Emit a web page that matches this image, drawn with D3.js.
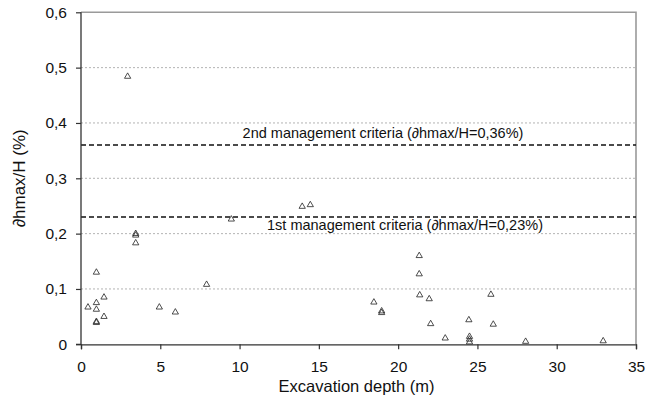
<!DOCTYPE html>
<html>
<head>
<meta charset="utf-8">
<script src="https://cdn.jsdelivr.net/npm/d3@7"></script>
<style>
  html, body { margin: 0; padding: 0; background: #fff; }
  svg { display: block; font-family: "Liberation Sans", Arial, Helvetica, sans-serif; }
</style>
</head>
<body>
<svg id="chart" width="658" height="403"></svg>
<script>
// Excavation depth (m) of each monitored section
const depth = [
  2.94, 3.45, 3.45, 3.45, 9.48, 0.97, 7.92, 1.45, 0.97, 0.44,
  0.97, 4.94, 5.95, 1.45, 0.97, 0.97, 13.95, 14.46, 21.33, 21.33,
  21.36, 21.96, 18.47, 18.96, 18.96, 25.85, 22.05, 24.46, 26.0, 22.97,
  24.5, 24.5, 24.5, 28.04, 32.93
];
// Maximum horizontal wall deflection ratio ∂hmax/H (%)
const ratio = [
  0.484, 0.200, 0.197, 0.183, 0.226, 0.130, 0.108, 0.085, 0.075, 0.067,
  0.063, 0.067, 0.058, 0.050, 0.041, 0.039, 0.249, 0.252, 0.160, 0.127,
  0.089, 0.082, 0.076, 0.060, 0.057, 0.090, 0.037, 0.044, 0.036, 0.011,
  0.014, 0.009, 0.004, 0.005, 0.006
];
// Management criteria levels and their captions
const criteriaValues = [0.36, 0.23];
const criteriaLabels = [
  "2nd management criteria (∂hmax/H=0,36%)",
  "1st management criteria (∂hmax/H=0,23%)"
];
const xTicks = [0, 5, 10, 15, 20, 25, 30, 35];
const yTicks = [0, 0.1, 0.2, 0.3, 0.4, 0.5, 0.6];

const svg = d3.select("#chart");
const plotLeft = 81, plotRight = 636, plotTop = 12.3, plotBottom = 344.3;

const x = d3.scaleLinear().domain([0, 35]).range([plotLeft, plotRight]);
const y = d3.scaleLinear().domain([0, 0.6]).range([plotBottom, plotTop]);

const fmt = d => d === 0 ? "0" : d3.format(".1f")(d).replace(".", ",");

// dotted horizontal gridlines
svg.append("g")
  .selectAll("line")
  .data(yTicks.filter(d => d > 0 && d < 0.6))
  .join("line")
  .attr("x1", plotLeft).attr("x2", plotRight)
  .attr("y1", d => y(d)).attr("y2", d => y(d))
  .attr("stroke", "#a0a0a0")
  .attr("stroke-width", 0.8)
  .attr("stroke-dasharray", "2,2");

// top and right frame
svg.append("path")
  .attr("d", `M${plotLeft},${y(0.6)}H${x(35)}V${y(0)}`)
  .attr("fill", "none")
  .attr("stroke", "#9a9a9a")
  .attr("stroke-width", 1.6);

// criteria lines
svg.append("g")
  .selectAll("line")
  .data(criteriaValues)
  .join("line")
  .attr("x1", plotLeft).attr("x2", plotRight)
  .attr("y1", d => y(d)).attr("y2", d => y(d))
  .attr("stroke", "#111")
  .attr("stroke-width", 1.5)
  .attr("stroke-dasharray", "5,3");

// criteria captions
const captionDy = [-7, 13];
const captionX = [383, 405];
svg.append("g")
  .selectAll("text")
  .data(criteriaValues)
  .join("text")
  .attr("x", (d, i) => captionX[i])
  .attr("y", (d, i) => y(d) + captionDy[i])
  .attr("text-anchor", "middle")
  .attr("font-size", 14.5)
  .attr("fill", "#111")
  .text((d, i) => criteriaLabels[i]);

// axes
const xAxis = svg.append("g")
  .attr("transform", `translate(0,${plotBottom})`)
  .call(d3.axisBottom(x).tickValues(xTicks).tickSize(5).tickPadding(12).tickFormat(d3.format("d")));
const yAxis = svg.append("g")
  .attr("transform", `translate(${plotLeft},0)`)
  .call(d3.axisLeft(y).tickValues(yTicks).tickSize(5).tickPadding(9).tickFormat(fmt));

[xAxis, yAxis].forEach(g => {
  g.select(".domain").attr("stroke", "#333").attr("stroke-width", 1.3);
  g.selectAll(".tick line").attr("stroke", "#333").attr("stroke-width", 1.2);
  g.selectAll(".tick text").attr("fill", "#111").attr("font-size", 15.5)
    .attr("font-family", "'Liberation Sans', Arial, sans-serif");
});
yAxis.select(".domain").attr("d", `M-5,${y(0)}H0V${y(0.6)}`);

// data markers: open triangles
const tri = d3.symbol().type(d3.symbolTriangle).size(17);
svg.append("g")
  .selectAll("path")
  .data(depth.map((d, i) => [d, ratio[i]]))
  .join("path")
  .attr("d", tri)
  .attr("transform", d => `translate(${x(d[0])},${y(d[1])})`)
  .attr("fill", "none")
  .attr("stroke", "#222")
  .attr("stroke-width", 0.8);

// axis titles
svg.append("text")
  .attr("x", (plotLeft + plotRight) / 2 - 2)
  .attr("y", 392)
  .attr("text-anchor", "middle")
  .attr("font-size", 16.5)
  .attr("fill", "#111")
  .text("Excavation depth (m)");

svg.append("text")
  .attr("transform", `translate(25,${(plotTop + plotBottom) / 2}) rotate(-90)`)
  .attr("text-anchor", "middle")
  .attr("font-size", 17)
  .attr("fill", "#111")
  .text("∂hmax/H (%)");
</script>
</body>
</html>
